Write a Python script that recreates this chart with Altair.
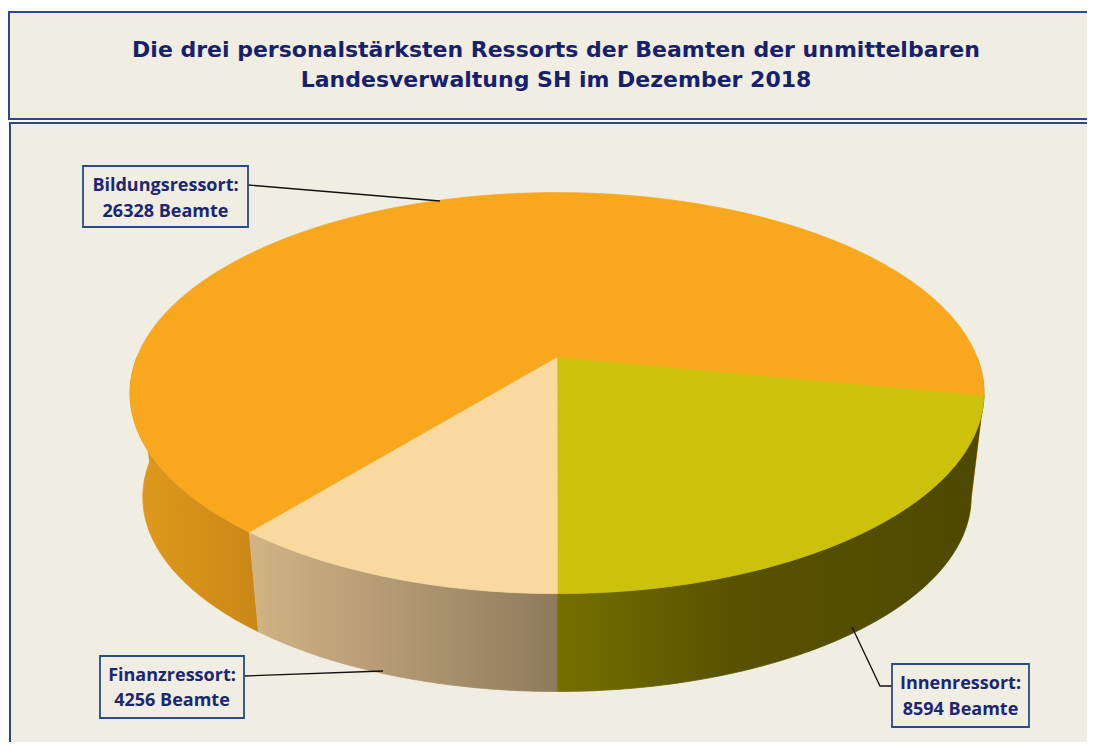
import altair as alt
import pandas as pd

# ---------------- data ----------------
categories = ["Innenressort", "Finanzressort", "Bildungsressort"]
values = [8594, 4256, 26328]
unit = "Beamte"
top_colors = ["#ccc20b", "#f9d99f", "#f9a81e"]
title_lines = [
    "Die drei personalstärksten Ressorts der Beamten der unmittelbaren",
    "Landesverwaltung SH im Dezember 2018",
]

# ---------------- layout (page pixel coordinates) ----------------
W, H = 1079, 734
OX, OY = 8, 8
X0, Y0, A, B, E = 557, 357, 420, 194, 0.18   # perspective pie top
DEPTH, SHRINK = 105, 0.97
START = 11
N = 90
BG = "#f0ede2"
FRAME = "#2d4a88"
NAVY = "#1b2770"
TITLE_NAVY = "#17216a"

label_layout = {
    "Bildungsressort": dict(box=(83, 166, 248, 227), ty=(191, 217),
                            leader=[(248, 185), (440, 201)]),
    "Finanzressort": dict(box=(100, 656, 244, 718), ty=(681, 706),
                          leader=[(244, 676), (383, 671)]),
    "Innenressort": dict(box=(892, 664, 1029, 727), ty=(689, 715),
                         leader=[(852, 627), (880, 686), (892, 686)]),
}

wall_stops = {
    ("Bildungsressort", 0): [(0, "#e09a1d"), (1, "#cb8716")],
    ("Bildungsressort", 1): [(0, "#c88515"), (1, "#c08012")],
    ("Finanzressort", 0): [(0, "#d2b484"), (0.5, "#b09872"), (1, "#8e7a5c")],
    ("Innenressort", 0): [(0, "#767000"), (0.4, "#585300"), (1, "#4d4900")],
}

df = pd.DataFrame({"cat": categories, "value": values, "idx": list(range(len(categories)))})

xs = alt.Scale(domain=[OX, OX + W], nice=False, zero=False)
ys = alt.Scale(domain=[OY, OY + H], nice=False, zero=False, reverse=True)
XE = alt.X("x:Q", scale=xs, axis=None)
YE = alt.Y("y:Q", scale=ys, axis=None)
cscale = alt.Scale(domain=categories, range=top_colors)

# ---------------- frames ----------------
frames = pd.DataFrame({
    "x": [9, 10], "x2": [OX + W + 20, OX + W + 20],
    "y": [12, 123], "y2": [119, OY + H + 40],
})
frame_layer = alt.Chart(frames).mark_rect(fill=BG, stroke=FRAME, strokeWidth=2, clip=True).encode(
    x=XE, x2="x2:Q", y=YE, y2="y2:Q")

# ---------------- pie base ----------------
base = (
    alt.Chart(df)
    .transform_joinaggregate(total="sum(value)")
    .transform_window(cum="sum(value)", sort=[alt.SortField("idx")], frame=[None, 0])
    .transform_calculate(
        a0=f"{START} + 360*(datum.cum - datum.value)/datum.total",
        a1=f"{START} + 360*datum.cum/datum.total",
    )
)

def wall(cat, k):
    stops = wall_stops[(cat, k)]
    g = alt.Gradient(gradient="linear",
                     stops=[alt.GradientStop(offset=o, color=c) for o, c in stops],
                     x1=0, x2=1, y1=0, y2=0)
    return (
        base.transform_filter(alt.datum.cat == cat)
        .transform_calculate(lo=f"max(datum.a0 - {360 * k}, 0)", hi=f"min(datum.a1 - {360 * k}, 180)")
        .transform_filter("datum.hi > datum.lo")
        .transform_calculate(steps=f"sequence(0, {2 * N + 2})")
        .transform_flatten(["steps"], ["i"])
        .transform_calculate(bot=f"datum.i > {N} ? 1 : 0")
        .transform_calculate(
            th=f"(datum.bot == 0 ? datum.lo + (datum.hi - datum.lo)*datum.i/{N} : "
               f"datum.hi - (datum.hi - datum.lo)*(datum.i - {N + 1})/{N})*PI/180")
        .transform_calculate(w=f"1 - {E}*sin(datum.th)")
        .transform_calculate(s=f"datum.bot == 1 ? {SHRINK} : 1")
        .transform_calculate(
            x=f"{X0} + datum.s*{A}*cos(datum.th)/datum.w",
            y=f"{Y0} + datum.bot*{DEPTH} + datum.s*{B}*sin(datum.th)/datum.w",
        )
        .mark_line(filled=True, fill=g, stroke=g, strokeWidth=0.8, interpolate="linear")
        .encode(x=XE, y=YE, order="i:Q")
    )

walls = [wall(c, k) for (c, k) in wall_stops]

top = (
    base.transform_calculate(steps=f"sequence(0, {N + 3})")
    .transform_flatten(["steps"], ["i"])
    .transform_calculate(r=f"(datum.i == 0 || datum.i == {N + 2}) ? 0 : 1")
    .transform_calculate(th=f"(datum.a0 + (datum.a1 - datum.a0)*(datum.i - 1)/{N})*PI/180")
    .transform_calculate(u="datum.r*cos(datum.th)")
    .transform_calculate(v="datum.r*sin(datum.th)")
    .transform_calculate(
        x=f"{X0} + {A}*datum.u/(1 - {E}*datum.v)",
        y=f"{Y0} + {B}*datum.v/(1 - {E}*datum.v)",
    )
    .mark_line(filled=True, strokeWidth=0.8, interpolate="linear")
    .encode(
        x=XE, y=YE, order="i:Q",
        color=alt.Color("cat:N", scale=cscale, legend=None),
        stroke=alt.Stroke("cat:N", scale=cscale, legend=None),
    )
)

# ---------------- labels ----------------
lead_rows, box_rows, text_rows = [], [], []
for c, v in zip(categories, values):
    L = label_layout[c]
    for j, (px, py) in enumerate(L["leader"]):
        lead_rows.append({"cat": c, "o": j, "x": px, "y": py})
    x0, y0, x1, y1 = L["box"]
    box_rows.append({"cat": c, "x": x0, "x2": x1, "y": y0, "y2": y1})
    cx = (x0 + x1) / 2
    text_rows.append({"cat": c, "x": cx, "y": L["ty"][0], "t": f"{c}:"})
    text_rows.append({"cat": c, "x": cx, "y": L["ty"][1], "t": f"{v} {unit}"})

leaders = alt.Chart(pd.DataFrame(lead_rows)).mark_line(color="#111111", strokeWidth=1.3).encode(
    x=XE, y=YE, detail="cat:N", order="o:Q")
boxes = alt.Chart(pd.DataFrame(box_rows)).mark_rect(fill=BG, stroke=FRAME, strokeWidth=1.8).encode(
    x=XE, x2="x2:Q", y=YE, y2="y2:Q")
texts = alt.Chart(pd.DataFrame(text_rows)).mark_text(
    font="Open Sans", fontWeight="bold", fontSize=18, color=NAVY, baseline="alphabetic", align="center"
).encode(x=XE, y=YE, text="t:N")

# ---------------- title ----------------
tdf = pd.DataFrame({"x": [556, 556], "y": [57, 87], "t": title_lines})
title = alt.Chart(tdf).mark_text(
    font="DejaVu Sans", fontWeight="bold", fontSize=22, color=TITLE_NAVY, baseline="alphabetic", align="center"
).encode(x=XE, y=YE, text="t:N")

chart = alt.layer(frame_layer, *walls, top, leaders, boxes, texts, title).properties(
    width=W, height=H, padding=0, autosize="none", background="white"
).configure_view(stroke=None)

chart.save("out.html", embed_options={"renderer": "svg", "actions": False})
